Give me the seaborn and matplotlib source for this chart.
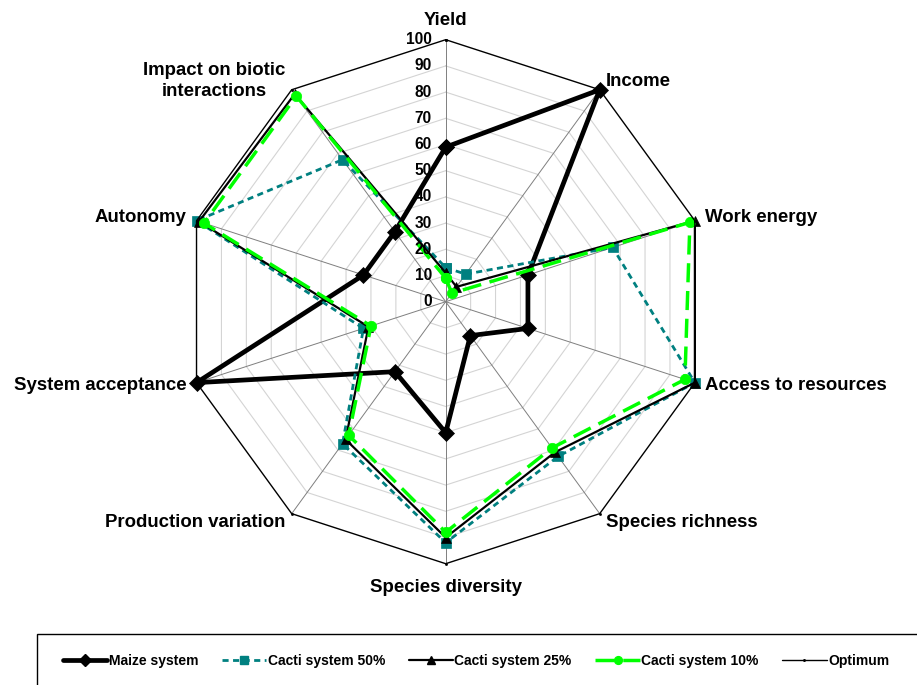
import numpy as np
import pandas as pd
import matplotlib
matplotlib.use("Agg")
import matplotlib.pyplot as plt
from matplotlib.lines import Line2D
from matplotlib.patches import Rectangle
import seaborn as sns

# ---------------- data ----------------
categories = ["Yield", "Income", "Work energy", "Access to resources",
              "Species richness", "Species diversity", "Production variation",
              "System acceptance", "Autonomy", "Impact on biotic\ninteractions"]
maize = [59, 100, 33, 33, 16, 50, 33, 100, 33, 33]
cacti50 = [13, 13, 67, 100, 73, 92, 67, 33, 100, 67]
cacti25 = [11, 7, 100, 100, 71, 90, 65, 31, 99, 98]
cacti10 = [9, 4, 98, 96, 69, 88, 63, 30, 97, 97]
optimum = [100, 100, 100, 100, 100, 100, 100, 100, 100, 100]
radial_ticks = [0, 10, 20, 30, 40, 50, 60, 70, 80, 90, 100]
series_names = ["Maize system", "Cacti system 50%", "Cacti system 25%",
                "Cacti system 10%", "Optimum"]
series_values = [maize, cacti50, cacti25, cacti10, optimum]

# ---------------- style ----------------
sns.set_theme(style="white")
plt.rcParams["font.family"] = ["Liberation Sans", "DejaVu Sans"]
plt.rcParams["font.weight"] = "bold"
plt.rcParams["text.color"] = "black"

styles = {
    "Maize system": dict(color="black", linewidth=3.4, marker="D", markersize=8.5,
                         linestyle="-"),
    "Cacti system 50%": dict(color="#008080", linewidth=2.0, marker="s", markersize=7,
                             linestyle=(0, (2.2, 1.6))),
    "Cacti system 25%": dict(color="black", linewidth=1.6, marker="^", markersize=7.5,
                             linestyle="-"),
    "Cacti system 10%": dict(color="#00ff00", linewidth=2.5, marker="o", markersize=7.5,
                             linestyle=(0, (5.5, 2.5))),
    "Optimum": dict(color="black", linewidth=1.0, marker=".", markersize=3,
                    linestyle="-"),
}

n = len(categories)
theta = np.linspace(0, 2 * np.pi, n, endpoint=False)
theta_closed = np.append(theta, 2 * np.pi)

fig = plt.figure(figsize=(9.17, 6.85), dpi=100)
cx, cy, R = 445.7 / 917, (685 - 301.7) / 685, 262.0
ax = fig.add_axes([cx - R / 917, cy - R / 685, 2 * R / 917, 2 * R / 685],
                  projection="polar")
ax.set_theta_offset(np.pi / 2)
ax.set_theta_direction(-1)
ax.grid(False)
ax.spines["polar"].set_visible(False)
ax.set_xticks([])
ax.set_yticks([])
ax.patch.set_alpha(0)

# polygon grid
for lvl in radial_ticks[1:-1]:
    ax.plot(theta_closed, [lvl] * (n + 1), color="#d4d4d4", lw=0.8, zorder=1)
for th in theta:
    ax.plot([th, th], [0, 100], color="#7f7f7f", lw=0.7, zorder=1)

# series
handles = []
for name, vals in zip(series_names, series_values):
    df = pd.DataFrame({"theta": theta_closed, "value": list(vals) + [vals[0]]})
    st = styles[name]
    sns.lineplot(data=df, x="theta", y="value", ax=ax, sort=False, estimator=None,
                 color=st["color"], linewidth=st["linewidth"], marker=st["marker"],
                 markersize=st["markersize"], linestyle=st["linestyle"],
                 markeredgecolor=st["color"], markerfacecolor=st["color"],
                 markeredgewidth=0.5, clip_on=False, zorder=3, legend=False)
    handles.append(Line2D([], [], color=st["color"], linewidth=st["linewidth"],
                          marker=st["marker"], markersize=st["markersize"] * 0.75,
                          linestyle=st["linestyle"], markeredgecolor=st["color"],
                          markerfacecolor=st["color"]))

ax.set_ylim(0, 100)
ax.set_xlabel("")
ax.set_ylabel("")

# radial tick labels
for t in radial_ticks:
    ax.annotate(str(t), xy=(0, t), xytext=(-10, 0), textcoords="offset points",
                ha="right", va="center", fontsize=11.2, fontweight="bold",
                color="black", annotation_clip=False)

# category labels
for th, lab in zip(theta, categories):
    xdir = np.sin(th)
    ydir = np.cos(th)
    r = 104
    if abs(xdir) < 0.1:
        ha = "center"
    elif xdir > 0:
        ha = "left"
    else:
        ha = "right"
    if abs(xdir) < 0.1:
        va = "bottom" if ydir > 0 else "top"
        if ydir < 0:
            r = 106
    else:
        va = "center"
    ax.text(th, r, lab, ha=ha, va=va, fontsize=13.4, fontweight="bold",
            color="black", multialignment="center", linespacing=1.3,
            clip_on=False)

# legend box
fig.patches.append(Rectangle((37 / 917, -0.1), 1.0, (685 - 634) / 685 + 0.1,
                             transform=fig.transFigure, facecolor="white",
                             edgecolor="black", linewidth=1.0, zorder=0))
fig.legend(handles, series_names, loc="center", ncol=5,
           bbox_to_anchor=(476 / 917, (685 - 661) / 685), frameon=False,
           prop={"size": 10, "weight": "bold"}, handlelength=3.2,
           handletextpad=0.1, columnspacing=1.7, labelcolor="black")

fig.savefig("out.png", dpi=100)
